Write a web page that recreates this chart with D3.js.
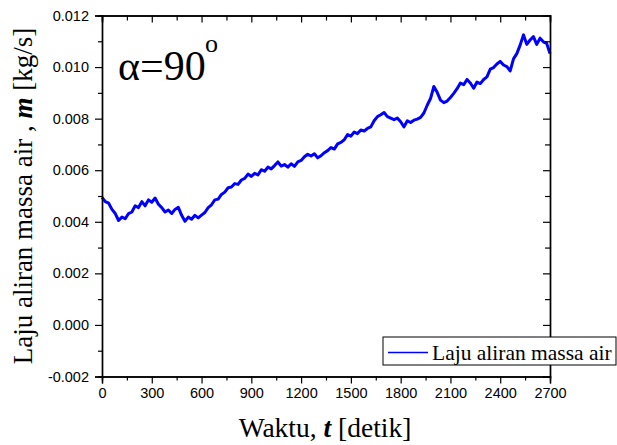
<!DOCTYPE html>
<html>
<head>
<meta charset="utf-8">
<script src="https://cdn.jsdelivr.net/npm/d3@7"></script>
<style>
  html, body { margin: 0; padding: 0; background: #fff; }
  svg { display: block; }
</style>
</head>
<body>
<svg id="chart" width="617" height="445"></svg>
<script>
// ---- data ----
const timeStep = 20; // seconds between samples
const massFlow = [
  0.00495, 0.00478, 0.00472, 0.00448, 0.00432, 0.00405, 0.00418, 0.00412, 0.00432, 0.00438,
  0.00462, 0.00455, 0.00478, 0.00462, 0.00485, 0.00476, 0.00492, 0.00468, 0.00455, 0.00438,
  0.00446, 0.00432, 0.00448, 0.00456, 0.00425, 0.00402, 0.00418, 0.00410, 0.00425, 0.00415,
  0.00426, 0.00436, 0.00455, 0.00466, 0.00485, 0.00488, 0.00506, 0.00515, 0.00532, 0.00535,
  0.00548, 0.00545, 0.00562, 0.00568, 0.00585, 0.00576, 0.00588, 0.00582, 0.00602, 0.00596,
  0.00612, 0.00605, 0.00618, 0.00632, 0.00616, 0.00622, 0.00612, 0.00625, 0.00615, 0.00632,
  0.00638, 0.00652, 0.00662, 0.00655, 0.00664, 0.00648, 0.00656, 0.00668, 0.00676, 0.00688,
  0.00682, 0.00702, 0.00708, 0.00718, 0.00738, 0.00732, 0.00748, 0.00742, 0.00756, 0.00752,
  0.00762, 0.00768, 0.00792, 0.00808, 0.00815, 0.00824, 0.00808, 0.00802, 0.00796, 0.00802,
  0.00788, 0.00768, 0.00792, 0.00785, 0.00794, 0.00798, 0.00805, 0.00822, 0.00852, 0.00878,
  0.00925, 0.00902, 0.00872, 0.00862, 0.00868, 0.00882, 0.00898, 0.00916, 0.00938, 0.00932,
  0.00952, 0.00938, 0.00918, 0.00942, 0.00936, 0.00952, 0.00962, 0.00992, 0.00998, 0.01012,
  0.01022, 0.01008, 0.01002, 0.00985, 0.01032, 0.01052, 0.01085, 0.01125, 0.01088, 0.01105,
  0.01118, 0.01088, 0.01112, 0.01098, 0.01092, 0.01052
];
const xMajorTicks = [0, 300, 600, 900, 1200, 1500, 1800, 2100, 2400, 2700];
const xMinorTicks = [150, 450, 750, 1050, 1350, 1650, 1950, 2250, 2550];
const yMajorTicks = [-0.002, 0.000, 0.002, 0.004, 0.006, 0.008, 0.010, 0.012];
const yMinorTicks = [-0.001, 0.001, 0.003, 0.005, 0.007, 0.009, 0.011];
const seriesName = "Laju aliran massa air";

const data = massFlow.map((v, i) => ({ t: i * timeStep, m: v }));

// ---- layout ----
const svg = d3.select("#chart");
const L = 102, R = 550, T = 15.5, B = 376.5;

const x = d3.scaleLinear().domain([0, 2700]).range([L, R]);
const y = d3.scaleLinear().domain([-0.002, 0.012]).range([B, T]);

const sans = "'Liberation Sans', Arial, sans-serif";
const serif = "'Liberation Serif', 'Times New Roman', serif";

function styleAxis(g) {
  g.selectAll("path.domain").attr("stroke", "#000").attr("stroke-width", 1.4);
  g.selectAll(".tick line").attr("stroke", "#000").attr("stroke-width", 1.2);
  g.selectAll(".tick text").attr("font-family", sans).attr("font-size", 14.5).attr("fill", "#000");
}

// line first so axes sit on top
const line = d3.line().x(d => x(d.t)).y(d => y(d.m));
svg.append("path")
  .datum(data)
  .attr("fill", "none")
  .attr("stroke", "#0000ff")
  .attr("stroke-width", 3)
  .attr("stroke-linejoin", "round")
  .attr("d", line);

// bottom axis
svg.append("g").attr("transform", `translate(0,${B})`)
  .call(d3.axisBottom(x).tickValues(xMinorTicks).tickSize(4).tickFormat(""))
  .call(styleAxis);
svg.append("g").attr("transform", `translate(0,${B})`)
  .call(d3.axisBottom(x).tickValues(xMajorTicks).tickSize(7).tickPadding(4).tickFormat(d3.format("d")))
  .call(styleAxis);

// top axis (inward ticks)
svg.append("g").attr("transform", `translate(0,${T})`)
  .call(d3.axisTop(x).tickValues(xMinorTicks).tickSize(-5).tickFormat(""))
  .call(styleAxis);
svg.append("g").attr("transform", `translate(0,${T})`)
  .call(d3.axisTop(x).tickValues(xMajorTicks).tickSize(-7).tickFormat(""))
  .call(styleAxis);

// left axis
svg.append("g").attr("transform", `translate(${L},0)`)
  .call(d3.axisLeft(y).tickValues(yMinorTicks).tickSize(4).tickFormat(""))
  .call(styleAxis);
svg.append("g").attr("transform", `translate(${L},0)`)
  .call(d3.axisLeft(y).tickValues(yMajorTicks).tickSize(7).tickPadding(6).tickFormat(d => d.toFixed(3)))
  .call(styleAxis);

// right axis (inward ticks)
svg.append("g").attr("transform", `translate(${R},0)`)
  .call(d3.axisRight(y).tickValues(yMinorTicks).tickSize(-5).tickFormat(""))
  .call(styleAxis);
svg.append("g").attr("transform", `translate(${R},0)`)
  .call(d3.axisRight(y).tickValues(yMajorTicks).tickSize(-7).tickFormat(""))
  .call(styleAxis);

// x title
const xt = svg.append("text")
  .attr("x", 325).attr("y", 437)
  .attr("text-anchor", "middle")
  .attr("font-family", serif).attr("font-size", 27.5).attr("fill", "#000");
xt.append("tspan").text("Waktu, ");
xt.append("tspan").attr("font-weight", "bold").attr("font-style", "italic").text("t");
xt.append("tspan").text(" [detik]");

// y title
const yt = svg.append("text")
  .attr("transform", "translate(32,196) rotate(-90)")
  .attr("text-anchor", "middle")
  .attr("font-family", serif).attr("font-size", 27).attr("fill", "#000");
yt.append("tspan").text("Laju aliran massa air , ");
yt.append("tspan").attr("font-weight", "bold").attr("font-style", "italic").text("m");
yt.append("tspan").text(" [kg/s]");

// alpha annotation
svg.append("text")
  .attr("x", 118).attr("y", 80)
  .attr("font-family", serif).attr("font-size", 42).attr("fill", "#000")
  .text("α=90");
svg.append("text")
  .attr("x", 205).attr("y", 52)
  .attr("font-family", serif).attr("font-size", 26).attr("fill", "#000")
  .text("o");

// legend
const lg = svg.append("g");
lg.append("rect")
  .attr("x", 383).attr("y", 337).attr("width", 233).attr("height", 28)
  .attr("fill", "#fff").attr("stroke", "#000").attr("stroke-width", 1);
lg.append("line")
  .attr("x1", 388).attr("x2", 428).attr("y1", 352.5).attr("y2", 352.5)
  .attr("stroke", "#0000ff").attr("stroke-width", 1.5);
lg.append("text")
  .attr("x", 432).attr("y", 360)
  .attr("font-family", serif).attr("font-size", 21.5).attr("fill", "#000")
  .text(seriesName);
</script>
</body>
</html>
